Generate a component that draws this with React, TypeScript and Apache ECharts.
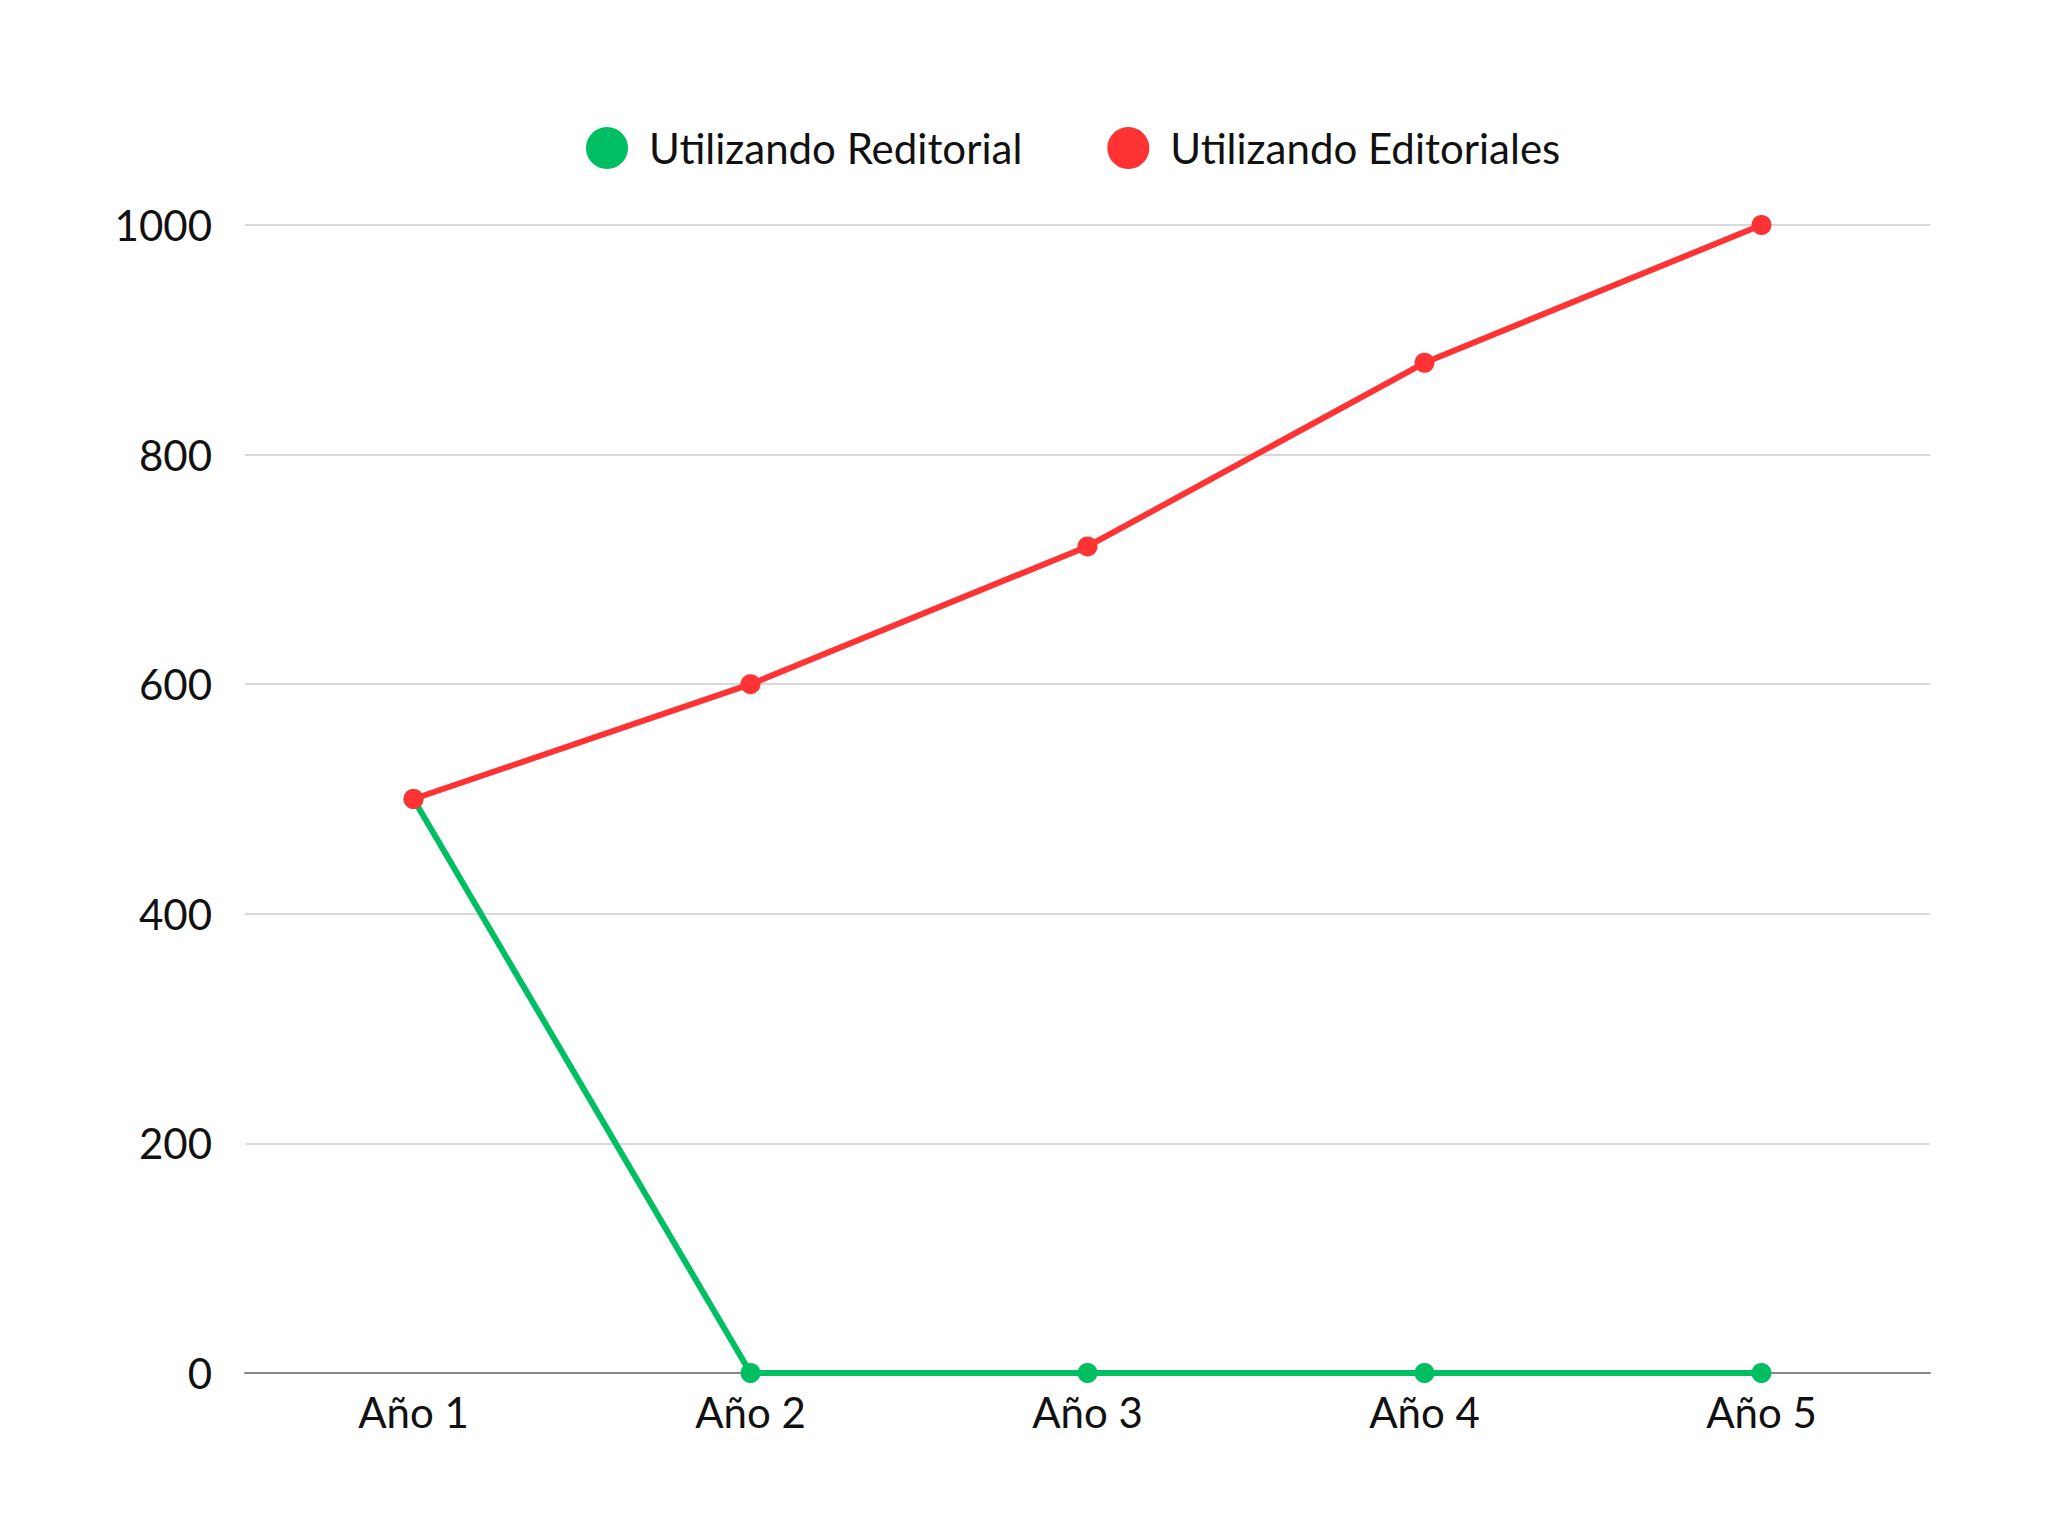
import React, { useEffect, useRef } from "react";
import * as echarts from "echarts";

const categories = ["Año 1", "Año 2", "Año 3", "Año 4", "Año 5"];
const reditorial = [500, 0, 0, 0, 0];
const editoriales = [500, 600, 720, 880, 1000];
const seriesNames = ["Utilizando Reditorial", "Utilizando Editoriales"];
const colors = ["#00BF63", "#FF3333"];

export default function App() {
  const ref = useRef<HTMLDivElement>(null);
  useEffect(() => {
    if (!ref.current) return;
    const chart = echarts.init(ref.current, null, { renderer: "svg" });
    chart.setOption({
      animation: false,
      backgroundColor: "#ffffff",
      textStyle: { fontFamily: "Lato" },
      legend: {
        top: 122,
        left: 581,
        icon: "circle",
        itemWidth: 42,
        itemHeight: 42,
        itemGap: 85,
        textStyle: {
          fontSize: 42,
          color: "#111",
          fontFamily: "Lato",
          padding: [0, 0, 0, 16],
        },
        data: seriesNames,
      },
      grid: { left: 245, right: 118, top: 225, bottom: 163, containLabel: false },
      xAxis: {
        type: "category",
        data: categories,
        boundaryGap: true,
        axisLine: { show: true, lineStyle: { color: "#888", width: 2 } },
        axisTick: { show: false },
        axisLabel: { fontSize: 42, color: "#111", margin: 18, fontFamily: "Lato" },
      },
      yAxis: {
        type: "value",
        min: 0,
        max: 1000,
        interval: 200,
        axisLine: { show: false },
        axisTick: { show: false },
        splitLine: { lineStyle: { color: "#cccccc", width: 1.5 } },
        axisLabel: {
          fontSize: 42,
          color: "#111",
          margin: 33,
          fontFamily: "Lato",
          formatter: (v: number) => String(v),
        },
      },
      series: [
        {
          name: seriesNames[0],
          type: "line",
          data: reditorial,
          color: colors[0],
          symbol: "circle",
          symbolSize: 20,
          lineStyle: { width: 6, color: colors[0] },
          itemStyle: { color: colors[0] },
        },
        {
          name: seriesNames[1],
          type: "line",
          data: editoriales,
          color: colors[1],
          symbol: "circle",
          symbolSize: 20,
          lineStyle: { width: 6, color: colors[1] },
          itemStyle: { color: colors[1] },
        },
      ],
    });
    return () => chart.dispose();
  }, []);
  return (
    <div
      ref={ref}
      style={{ position: "absolute", left: 0, top: 0, width: 2048, height: 1536 }}
    />
  );
}
